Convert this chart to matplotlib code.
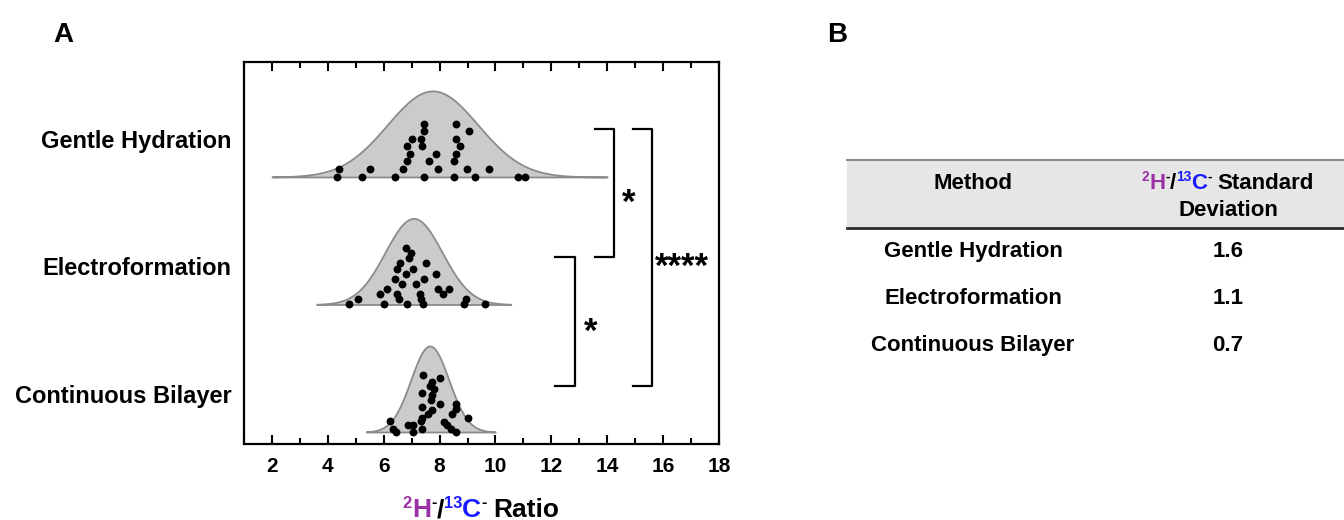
import numpy as np
import matplotlib
matplotlib.use('Agg')
import matplotlib.pyplot as plt

plt.rcParams['font.family'] = ['Liberation Sans', 'DejaVu Sans']
plt.rcParams['font.weight'] = 'bold'

# 分組名稱 (由下到上)
groups = ['Continuous Bilayer', 'Electroformation', 'Gentle Hydration']

# 常態曲線參數
fit_mean = [7.65, 7.07, 7.75]
fit_sd = [0.68, 1.02, 1.62]
fit_lo = [5.38, 3.6, 2.0]
fit_hi = [9.99, 10.55, 14.0]

# 各組資料點 (數值, 垂直偏移)
cb_vals = [6.22, 6.35, 6.44, 6.86, 7.06, 7.06, 7.37, 7.33, 7.38, 7.36, 7.37, 7.40, 7.60, 7.72, 7.72,
           7.69, 7.72, 7.67, 7.79, 8.03, 8.03, 8.15, 8.27, 8.41, 8.59, 8.44, 8.59, 8.59, 9.01]
cb_jit = [0.084, 0.027, 0.0, 0.058, 0.058, 0.0, 0.027, 0.084, 0.113, 0.196, 0.309, 0.450, 0.144, 0.170, 0.288,
          0.254, 0.392, 0.361, 0.340, 0.424, 0.223, 0.078, 0.053, 0.027, 0.0, 0.144, 0.184, 0.223, 0.110]

ef_vals = [4.75, 5.09, 5.87, 6.10, 6.01, 6.49, 6.55, 6.83, 6.41, 6.65, 6.46, 6.57, 6.80, 6.99, 6.90,
           6.80, 7.04, 7.16, 7.30, 7.35, 7.41, 7.45, 7.50, 7.87, 7.95, 8.13, 8.34, 8.89, 8.95, 9.62]
ef_jit = [0.0, 0.042, 0.081, 0.120, 0.0, 0.081, 0.042, 0.0, 0.199, 0.159, 0.282, 0.322, 0.444, 0.400, 0.361,
          0.243, 0.282, 0.159, 0.081, 0.042, 0.0, 0.199, 0.322, 0.243, 0.120, 0.081, 0.120, 0.0, 0.042, 0.0]

gh_vals = [4.41, 4.32, 5.22, 5.52, 6.39, 6.69, 6.84, 6.94, 6.84, 7.00, 7.33, 7.38, 7.44, 7.44, 7.62,
           7.87, 7.93, 7.44, 8.52, 8.59, 8.59, 8.74, 8.59, 8.52, 9.04, 8.98, 9.28, 9.76, 10.80, 11.06]
gh_jit = [0.060, 0.0, 0.0, 0.060, 0.0, 0.060, 0.123, 0.183, 0.243, 0.300, 0.300, 0.243, 0.361, 0.418, 0.123,
          0.183, 0.060, 0.0, 0.0, 0.418, 0.300, 0.243, 0.183, 0.123, 0.361, 0.060, 0.0, 0.060, 0.0, 0.0]

# 表格資料
table_methods = ['Gentle Hydration', 'Electroformation', 'Continuous Bilayer']
table_sd = ['1.6', '1.1', '0.7']

# 顯著性標記: (下組, 上組, 標記)
sig_pairs = [(1, 2, '*'), (0, 1, '*'), (0, 2, '****')]

PURPLE = '#9B2FA6'
BLUE = '#1A1AFF'

fig = plt.figure(figsize=(13.44, 5.2), dpi=100)
ax = fig.add_axes([244 / 1344, 1 - 444 / 520, 475 / 1344, 382.3 / 520])

dots = [(cb_vals, cb_jit), (ef_vals, ef_jit), (gh_vals, gh_jit)]
height = 0.675
for i in range(3):
    xs = np.linspace(fit_lo[i], fit_hi[i], 300)
    pdf = np.exp(-0.5 * ((xs - fit_mean[i]) / fit_sd[i]) ** 2)
    ax.fill_between(xs, i, i + height * pdf, facecolor='#CBCBCB', edgecolor='#8C8C8C', linewidth=1.3, zorder=2)
    v, j = dots[i]
    ax.scatter(v, i + np.array(j), s=32, color='black', zorder=3, linewidths=0)

ax.set_xlim(1, 18)
ax.set_ylim(-0.094, 2.904)
ax.set_xticks(range(2, 19, 2))
ax.set_xticks(range(1, 19), minor=True)
ax.tick_params(axis='x', which='both', direction='in', top=True, width=1.5, labelsize=15, pad=9)
ax.tick_params(axis='x', which='major', length=6.5)
ax.tick_params(axis='x', which='minor', length=4)
ax.set_yticks([0.3, 1.3, 2.3])
ax.set_yticklabels(groups)
ax.tick_params(axis='y', length=0, labelsize=17, pad=9)
plt.setp(ax.get_yticklabels(), va='center_baseline')
for sp in ax.spines.values():
    sp.set_linewidth(1.6)

# 顯著性括號
bracket_x = {(1, 2): (13.55, 14.23), (0, 1): (12.13, 12.85), (0, 2): (14.91, 15.61)}
label_dx = {(1, 2): 0.55, (0, 1): 0.57, (0, 2): 1.08}
for lo, hi, mark in sig_pairs:
    xa, xv = bracket_x[(lo, hi)]
    y1 = 2.38 if hi == 2 else 1.37
    y0 = 0.36 if lo == 0 else 1.37
    ax.plot([xa, xv, xv, xa], [y1, y1, y0, y0], color='black', lw=1.6, clip_on=False, zorder=4)
    ax.annotate(mark, xy=(xv + label_dx[(lo, hi)], (y0 + y1) / 2), xytext=(0, -0.57 * 25),
                textcoords='offset points', ha='center', va='baseline', fontsize=25, fontweight='bold')

# 疊加座標 (像素)
ov = fig.add_axes([0, 0, 1, 1])
ov.set_xlim(0, 1344)
ov.set_ylim(520, 0)
ov.axis('off')

renderer = fig.canvas.get_renderer()


def rich(x, y, pieces, size, gap_before=()):
    arts = []
    total = 0
    for k, (s, c, sup) in enumerate(pieces):
        fs = size * 0.62 if sup else size
        t = ov.text(0, 0, s, fontsize=fs, color=c, fontweight='bold', ha='left', va='baseline')
        w = t.get_window_extent(renderer).width
        if k in gap_before:
            total += 0.26 * size * 100 / 72
        arts.append((t, sup, total))
        total += w
    x0 = x - total / 2
    for t, sup, off in arts:
        t.set_position((x0 + off, y - (0.36 * size * 100 / 72 if sup else 0)))


ratio_pieces = [('2', PURPLE, True), ('H', PURPLE, False), ('-', 'black', True), ('/', 'black', False),
                ('13', BLUE, True), ('C', BLUE, False), ('-', 'black', True)]
rich(481, 517, ratio_pieces + [('Ratio', 'black', False)], 19, gap_before=(7,))

# 面板標籤
ov.text(63, 42, 'A', fontsize=20, fontweight='bold', ha='center', va='baseline')
ov.text(837, 42, 'B', fontsize=20, fontweight='bold', ha='center', va='baseline')

# 表格 B
ov.fill_between([847, 1344], 160, 227, color='#E6E6E6', lw=0, zorder=0)
ov.plot([847, 1344], [160, 160], color='#8A8A8A', lw=1.5)
ov.plot([847, 1344], [227.5, 227.5], color='#2A2A2A', lw=2)
col1, col2 = 973, 1228
tfs = 16
base = 0.36 * tfs * 100 / 72
ov.text(col1, 181 + base, 'Method', fontsize=tfs, fontweight='bold', ha='center', va='baseline')
rich(col2, 181 + base, ratio_pieces + [('Standard', 'black', False)], tfs, gap_before=(7,))
ov.text(col2, 208 + base, 'Deviation', fontsize=tfs, fontweight='bold', ha='center', va='baseline')
for k, (m, sd) in enumerate(zip(table_methods, table_sd)):
    yy = [249, 296, 343][k] + base
    ov.text(col1, yy, m, fontsize=tfs, fontweight='bold', ha='center', va='baseline')
    ov.text(col2, yy, sd, fontsize=tfs, fontweight='bold', ha='center', va='baseline')

fig.savefig('out.png', dpi=100)
